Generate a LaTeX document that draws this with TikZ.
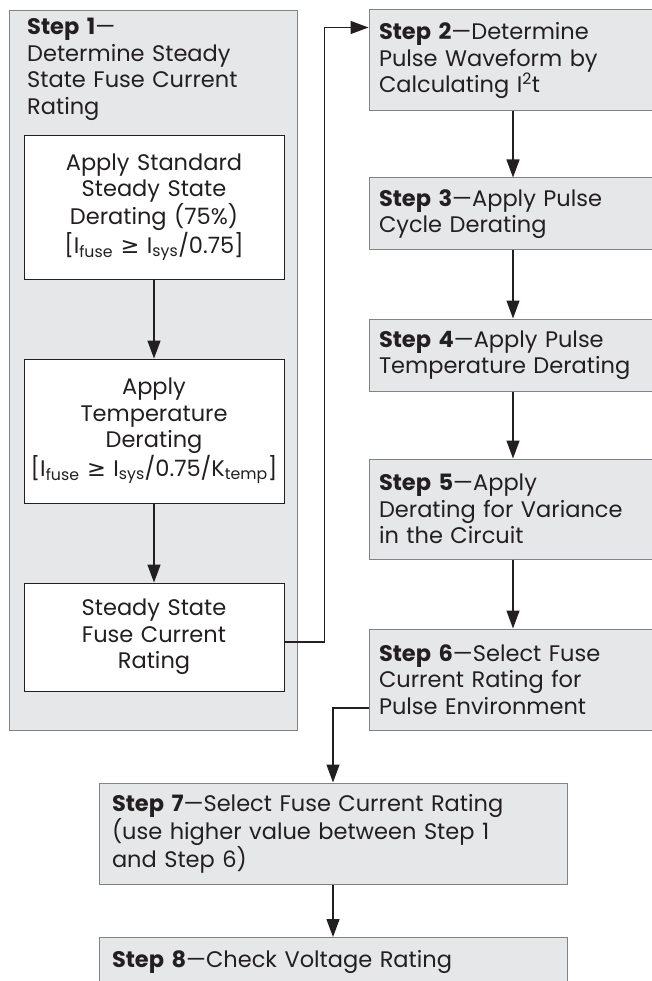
\documentclass[tikz,border=0pt]{standalone}
\usepackage{fontspec}
\setmainfont{Poppins}
\newfontfamily\symbolfont{DejaVu Sans}
\usepackage{xcolor}
\usepackage{tikz}
\usetikzlibrary{arrows.meta}

\definecolor{boxgray}{HTML}{E6E7E8}
\definecolor{edgegray}{HTML}{808285}
\definecolor{inkgray}{HTML}{231F20}
\newcommand{\geqsign}{{\symbolfont ≥}}

\begin{document}
\begin{tikzpicture}[x=1pt,y=-1pt,
		every node/.style={font=\fontsize{22.5}{26.5}\selectfont, text=inkgray, inner sep=0pt},
		graybox/.style={draw=edgegray, line width=1pt, fill=boxgray},
		whitebox/.style={draw=inkgray, line width=0.9pt, fill=white, minimum width=260pt, align=center, text width=256pt},
		stepbox/.style={graybox, minimum width=288pt, text width=268pt, align=left},
		widebox/.style={graybox, minimum width=468pt, text width=442pt, align=left, minimum height=101pt},
		flow/.style={draw=inkgray, line width=1.3pt, -{Triangle[length=18pt,width=13pt]}}]
			\useasboundingbox (0,0) rectangle (652,981);
			\clip (0,0) rectangle (652,981);
			% step 1 and its inner boxes
			\node[graybox, anchor=north west, minimum width=288pt, minimum height=720pt] (s1) at (9,10) {};
			\node[anchor=north west, text width=266pt, align=left] (s1title) at (27,18) {\textbf{Step 1}—\\Determine Steady\\State Fuse Current\\Rating};
			\node[whitebox, minimum height=144pt] (in1) at (154,207) {Apply Standard\\Steady State\\Derating (75\%)\\{[}I\textsubscript{fuse} \geqsign{} I\textsubscript{sys}/0.75]};
			\node[whitebox, minimum height=144pt] (in2) at (154,431) {Apply\\Temperature\\Derating\\{[}I\textsubscript{fuse} \geqsign{} I\textsubscript{sys}/0.75/K\textsubscript{temp}]};
			\node[whitebox, minimum height=108pt] (in3) at (154,637) {Steady State\\Fuse Current\\Rating};
			% right column
			\node[stepbox, minimum height=101pt] (s2) at (513,60.5) {\textbf{Step 2}—Determine\\Pulse Waveform by\\Calculating I\textsuperscript{2}t};
			\node[stepbox, minimum height=72pt] (s3) at (513,214) {\textbf{Step 3}—Apply Pulse\\Cycle Derating};
			\node[stepbox, minimum height=72pt] (s4) at (513,355) {\textbf{Step 4}—Apply Pulse\\Temperature Derating};
			\node[stepbox, minimum height=100pt] (s5) at (513,509) {\textbf{Step 5}—Apply\\Derating for Variance\\in the Circuit};
			\node[stepbox, minimum height=101pt] (s6) at (513,679.5) {\textbf{Step 6}—Select Fuse\\Current Rating for\\Pulse Environment};
			% bottom
			\node[widebox] (s7) at (333,833.5) {\textbf{Step 7}—Select Fuse Current Rating\\(use higher value between Step 1\\and Step 6)};
			\node[widebox, anchor=north, minimum height=48pt] (s8) at (333,937) {\textbf{Step 8}—Check Voltage Rating};
			% connectors
			\draw[flow] (in1) -- (in2);
			\draw[flow] (in2) -- (in3);
			\draw[flow] ([yshift=-5pt]in3.east) -- ++(40pt,0) |- ([yshift=-18pt]s2.north west);
			\draw[flow] (s2) -- (s3);
			\draw[flow] (s3) -- (s4);
			\draw[flow] (s4) -- (s5);
			\draw[flow] (s5) -- (s6);
			\draw[flow] ([yshift=-28.5pt]s6.west) -| (s7.north);
			\draw[flow] (s7) -- (s8);
		\end{tikzpicture}
\end{document}
